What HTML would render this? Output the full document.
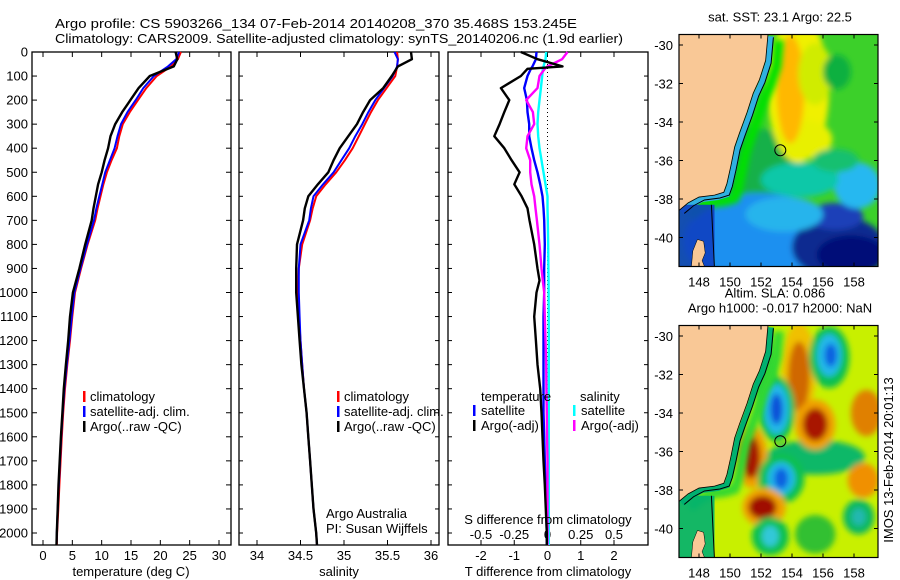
<!DOCTYPE html>
<html><head><meta charset="utf-8"><style>
html,body{margin:0;padding:0;background:#fff;}
svg{display:block;font-family:"Liberation Sans",sans-serif;}
text{font-size:13px;fill:#000;}
</style></head><body>
<svg id="fig" width="900" height="580" viewBox="0 0 900 580">
<defs>
<filter id="blur3" x="-50%" y="-50%" width="200%" height="200%"><feGaussianBlur stdDeviation="3"/></filter>
<clipPath id="clipTop"><rect x="679" y="35" width="199" height="232"/></clipPath>
<clipPath id="clipBot"><rect x="679" y="325" width="199" height="232"/></clipPath>
</defs>
<text x="55" y="28" textLength="522" lengthAdjust="spacingAndGlyphs">Argo profile: CS 5903266_134 07-Feb-2014 20140208_370 35.468S 153.245E</text>
<text x="55" y="43" textLength="568" lengthAdjust="spacingAndGlyphs">Climatology: CARS2009. Satellite-adjusted climatology: synTS_20140206.nc (1.9d earlier)</text>
<g id="panels"></g>
<g id="maps"></g>
</svg>
<script>
// ---------- data ----------
const depths = [0,30,60,100,150,200,250,300,350,400,450,500,550,600,650,700,800,900,1000,1100,1200,1300,1400,1500,1600,1700,1800,1900,2000,2050];
const tempClim = [23.5,23.0,21.8,19.4,17.6,16.2,14.8,13.6,13.0,12.6,11.7,10.9,10.3,9.8,9.3,8.9,7.6,6.5,5.45,5.0,4.6,4.15,3.75,3.45,3.2,3.0,2.8,2.6,2.4,2.35];
const tempSat  = [23.2,22.7,21.3,18.9,17.1,15.8,14.4,13.3,12.7,12.2,11.4,10.6,10.1,9.6,9.1,8.7,7.5,6.4,5.35,4.9,4.5,4.05,3.65,3.35,3.1,2.9,2.7,2.5,2.35,2.3];
const tempArgo = [22.6,22.9,22.3,18.2,16.3,14.9,13.5,12.3,11.5,11.1,10.5,10.0,9.4,9.0,8.6,8.3,7.2,6.2,5.1,4.6,4.3,3.9,3.55,3.3,3.05,2.85,2.65,2.5,2.35,2.3];
const salClim = [35.61,35.62,35.61,35.59,35.49,35.39,35.31,35.24,35.17,35.10,35.01,34.91,34.79,34.68,34.64,34.61,34.52,34.48,34.47,34.48,34.50,34.52,34.54,34.57,34.59,34.61,34.63,34.65,34.68,34.69];
const salSat  = [35.58,35.62,35.61,35.56,35.46,35.36,35.28,35.21,35.13,35.06,34.97,34.88,34.76,34.65,34.62,34.60,34.50,34.48,34.48,34.49,34.50,34.52,34.54,34.57,34.59,34.61,34.63,34.65,34.68,34.69];
const salArgo = [35.77,35.78,35.62,35.55,35.45,35.30,35.22,35.15,35.05,34.95,34.88,34.82,34.70,34.59,34.55,34.53,34.46,34.45,34.45,34.47,34.49,34.51,34.54,34.57,34.59,34.61,34.63,34.65,34.68,34.69];
const diffDepths = [0,30,60,70,100,150,200,250,300,350,400,450,500,550,600,650,700,800,900,950,1000,1100,1200,1300,1400,1500,1600,1700,1800,1900,2000,2050];
const dTsat  = [-0.33,-0.35,-0.45,-0.5,-0.6,-0.7,-0.62,-0.6,-0.55,-0.55,-0.48,-0.4,-0.3,-0.22,-0.15,-0.12,-0.1,-0.08,-0.1,-0.1,-0.1,-0.12,-0.12,-0.12,-0.12,-0.12,-0.1,-0.08,-0.06,-0.04,-0.02,-0.02];
const dTargo = [-0.8,-0.3,0.45,-0.6,-0.8,-1.4,-1.15,-1.3,-1.44,-1.6,-1.3,-1.08,-0.84,-1.0,-0.78,-0.6,-0.54,-0.4,-0.3,-0.24,-0.33,-0.4,-0.35,-0.3,-0.22,-0.18,-0.15,-0.12,-0.08,-0.05,-0.02,-0.02];
const dSsat  = [-0.01,-0.015,-0.03,-0.035,-0.04,-0.05,-0.06,-0.07,-0.075,-0.07,-0.06,-0.045,-0.03,-0.015,0,0,0.002,0.005,0.007,0.008,0.008,0.009,0.01,0.01,0.01,0.01,0.01,0.01,0.01,0.01,0.01,0.01];
const dSargo = [0.15,0.11,0.0,-0.02,-0.06,-0.075,-0.16,-0.11,-0.1,-0.15,-0.16,-0.13,-0.13,-0.12,-0.1,-0.09,-0.08,-0.06,-0.045,-0.035,-0.025,-0.02,-0.015,-0.01,-0.008,-0.005,-0.003,0,0,0,0,0];
const depthTicks = [0,100,200,300,400,500,600,700,800,900,1000,1100,1200,1300,1400,1500,1600,1700,1800,1900,2000];
const tempTicks = [0,5,10,15,20,25,30];
const salTicks = [34,34.5,35,35.5,36];
const salTickLabels = ["34","34.5","35","35.5","36"];
const tdTicks = [-2,-1,0,1,2];
const sdTicks = [-0.5,-0.25,0,0.25,0.5];
const sdTickLabels = ["-0.5","-0.25","0","0.25","0.5"];
const lonTicks = [148,150,152,154,156,158];
const latTicks = [-30,-32,-34,-36,-38,-40];
const argoLon = 153.245, argoLat = -35.468;

// ---------- helpers ----------
const NS = "http://www.w3.org/2000/svg";
function mk(tag, attrs, parent){const e=document.createElementNS(NS,tag);for(const k in attrs)e.setAttribute(k,attrs[k]);parent.appendChild(e);return e;}
const yTop=52, yBot=545;
const yD = d => yTop + d*0.2405;
function lin(d0,d1,r0,r1){return v=>r0+(v-d0)*(r1-r0)/(d1-d0);}
const xT = lin(0,30,43,219);
const xS = lin(34,36,257,431);
const xTD = lin(0,2,547.5,614);
const xSD = v => xTD(v*4);
const P = document.getElementById('panels');

function frame(x0,x1,name){
  const r=mk('rect',{x:x0,y:yTop,width:x1-x0,height:yBot-yTop,fill:'none',stroke:'#000','stroke-width':1.3},P);
  
  
}
function line(xs,ys,xf,color,w,name){
  let d='';
  for(let i=0;i<ys.length;i++){d+=(i?'L':'M')+xf(xs[i]).toFixed(1)+','+yD(ys[i]).toFixed(1);}
  const p=mk('path',{d:d,fill:'none',stroke:color,'stroke-width':w,'stroke-linejoin':'round'},P);
  
  
}
function txt(x,y,s,anchor,name,parent,size){
  const t=mk('text',{x:x,y:y,'text-anchor':anchor||'start'},parent||P);
  if(size)t.style.fontSize=size+'px';
  t.textContent=s;
  
  
  return t;
}
function xticks(vals,xf,labels,x0,x1,name,labelY){
  vals.forEach((v,i)=>{
    const x=xf(v); if(x<x0||x>x1)return;
    mk('line',{x1:x,y1:yTop,x2:x,y2:yTop+5,stroke:'#000'},P);
    mk('line',{x1:x,y1:yBot,x2:x,y2:yBot-5,stroke:'#000'},P);
    if(labelY) txt(x,labelY,labels[i],'middle',name+'-tick-label');
  });
}

// ---------- panel 1: temperature ----------
frame(32,231,'temperature-panel');
depthTicks.forEach(d=>{
  const y=yD(d);
  mk('line',{x1:32,y1:y,x2:37,y2:y,stroke:'#000'},P);
  mk('line',{x1:231,y1:y,x2:226,y2:y,stroke:'#000'},P);
  txt(28,y+4.5,String(d),'end','depth-tick-label');
});
xticks(tempTicks,xT,tempTicks.map(String),32,231,'temperature',560);
line(tempClim,depths,xT,'#ff0000',2,'temp-climatology-line');
line(tempSat,depths,xT,'#0000ff',2,'temp-satellite-line');
line(tempArgo,depths,xT,'#000000',2.4,'temp-argo-line');
txt(131,576,'temperature (deg C)','middle','temperature-axis-title');
[['#ff0000','climatology'],['#0000ff','satellite-adj. clim.'],['#000','Argo(..raw -QC)']].forEach((e,i)=>{
  const y=397+i*15;
  mk('rect',{x:83,y:y-6,width:2.5,height:11,fill:e[0]},P);
  txt(90,y+4,e[1],'start','temp-legend-entry');
});

// ---------- panel 2: salinity ----------
frame(239,439,'salinity-panel');
depthTicks.forEach(d=>{
  const y=yD(d);
  mk('line',{x1:239,y1:y,x2:243,y2:y,stroke:'#000'},P);
  mk('line',{x1:439,y1:y,x2:435,y2:y,stroke:'#000'},P);
});
xticks(salTicks,xS,salTickLabels,239,439,'salinity',560);
line(salClim,depths,xS,'#ff0000',2,'sal-climatology-line');
line(salSat,depths,xS,'#0000ff',2,'sal-satellite-line');
line(salArgo,depths,xS,'#000000',2.4,'sal-argo-line');
txt(339,576,'salinity','middle','salinity-axis-title');
[['#ff0000','climatology'],['#0000ff','satellite-adj. clim.'],['#000','Argo(..raw -QC)']].forEach((e,i)=>{
  const y=397+i*15;
  mk('rect',{x:337,y:y-6,width:2.5,height:11,fill:e[0]},P);
  txt(344,y+4,e[1],'start','sal-legend-entry');
});
txt(326,518,'Argo Australia','start','credit-argo-australia');
txt(326,533,'PI: Susan Wijffels','start','credit-pi');

// ---------- panel 3: differences ----------
frame(448,648,'difference-panel');
depthTicks.forEach(d=>{
  const y=yD(d);
  mk('line',{x1:448,y1:y,x2:452,y2:y,stroke:'#000'},P);
  mk('line',{x1:648,y1:y,x2:644,y2:y,stroke:'#000'},P);
});
xticks(tdTicks,xTD,tdTicks.map(String),448,648,'tdiff',560);
sdTicks.forEach((v,i)=>{txt(xSD(v),539,sdTickLabels[i],'middle','sdiff-tick-label');});
const zl=mk('line',{x1:xTD(0),y1:yTop,x2:xTD(0),y2:yBot,stroke:'#000','stroke-dasharray':'1,3'},P);


line(dSsat,diffDepths,xSD,'#00ffff',2.4,'sdiff-satellite-line');
line(dTsat,diffDepths,xTD,'#0000ff',2.4,'tdiff-satellite-line');
line(dSargo,diffDepths,xSD,'#ff00ff',2.4,'sdiff-argo-line');
line(dTargo,diffDepths,xTD,'#000000',2.4,'tdiff-argo-line');
txt(548,524,'S difference from climatology','middle','sdiff-axis-title');
txt(548,576,'T difference from climatology','middle','tdiff-axis-title');
txt(481,401,'temperature','start','diff-legend-temperature');
txt(580,401,'salinity','start','diff-legend-salinity');
[['#0000ff','satellite',473],['#000','Argo(-adj)',473],['#00ffff','satellite',573],['#ff00ff','Argo(-adj)',573]].forEach((e,i)=>{
  const y=411+(i%2)*15;
  mk('rect',{x:e[2],y:y-6,width:2.5,height:11,fill:e[0]},P);
  txt(e[2]+8,y+4,e[1],'start','diff-legend-entry');
});

// ---------- maps ----------
const M=document.getElementById('maps');
const mx = lin(148,158,699,854);
const coast = [[152.45,-29.45],[152.3,-30.8],[151.9,-31.8],[151.5,-32.5],[151.1,-33.5],[150.6,-34.6],[150.3,-35.3],[150.05,-36.3],[149.8,-37.2],[149.6,-37.65],[149.0,-37.8],[148.0,-37.9],[147.3,-38.2],[146.7,-38.6]];
const tas = [[147.5,-41.6],[147.6,-40.7],[147.9,-40.1],[148.3,-40.2],[148.4,-40.8],[148.2,-41.2],[148.4,-41.6]];
function drawMap(y30,name,title1,title2,blobs,base,shelf,outer,bass){
  const my = lin(-30,-40,y30,y30+192.5);
  const g=mk('g',{'clip-path':'url(#'+(name==='sst-map'?'clipTop':'clipBot')+')'},M);
  
  
  const top=y30-10.5;
  mk('rect',{x:679,y:top,width:199,height:232,fill:base},g);
  const bg=mk('g',{filter:'url(#blur3)'},g);
  blobs.forEach(b=>{
    mk('ellipse',{cx:mx(b[0]),cy:my(b[1]),rx:b[2]*15.5,ry:b[3]*19.3,fill:b[4],transform:'rotate('+(b[5]||0)+' '+mx(b[0])+' '+my(b[1])+')'},bg);
  });
  let od='';coast.forEach((c,i)=>{od+=(i?'L':'M')+mx(c[0]+0.7)+','+my(c[1]-0.3);});
  mk('path',{d:od,fill:'none',stroke:outer,'stroke-width':10,filter:'url(#blur3)'},g);
  let sd='';coast.forEach((c,i)=>{sd+=(i?'L':'M')+mx(c[0]+0.2)+','+my(c[1]-0.1);});
  mk('path',{d:sd,fill:'none',stroke:shelf,'stroke-width':6},g);
  mk('rect',{x:679,y:my(-38.3),width:mx(149)-679,height:my(-41.6)-my(-38.3),fill:bass,opacity:0.9},g);
  let cd='';coast.forEach((c,i)=>{cd+=(i?'L':'M')+mx(c[0]+0.35)+','+my(c[1]-0.15);});
  mk('path',{d:cd,fill:'none',stroke:'#000','stroke-width':1},g);
  let ld='M679,'+top;coast.forEach(c=>{ld+='L'+mx(c[0])+','+my(c[1]);});ld+='L679,'+my(-38.7)+'Z';
  mk('path',{d:ld,fill:'#f9c896',stroke:'#000','stroke-width':0.8},g);
  let td='';tas.forEach((c,i)=>{td+=(i?'L':'M')+mx(c[0])+','+my(c[1]);});
  mk('path',{d:td+'Z',fill:'#f9c896',stroke:'#000','stroke-width':0.5},g);
  mk('path',{d:'M'+mx(148.8)+','+my(-38.3)+'L'+mx(148.9)+','+my(-40)+'L'+mx(149.0)+','+my(-41.6),fill:'none',stroke:'#000','stroke-width':1},g);
  const c=mk('circle',{cx:mx(argoLon),cy:my(argoLat),r:5.5,fill:'none',stroke:'#000','stroke-width':1},M);
  
  
  const fr=mk('rect',{x:679,y:top,width:199,height:232,fill:'none',stroke:'#000','stroke-width':1.2},M);
  
  
  lonTicks.forEach(l=>{
    const x=mx(l);
    mk('line',{x1:x,y1:top,x2:x,y2:top+4,stroke:'#000'},M);
    mk('line',{x1:x,y1:top+232,x2:x,y2:top+228,stroke:'#000'},M);
    txt(x,top+252,String(l),'middle',name+'-lon-label',M);
  });
  latTicks.forEach(l=>{
    const y=my(l);
    mk('line',{x1:679,y1:y,x2:683,y2:y,stroke:'#000'},M);
    mk('line',{x1:878,y1:y,x2:874,y2:y,stroke:'#000'},M);
    txt(673,y+5,String(l),'end',name+'-lat-label',M);
  });
  if(title2){txt(775,top-28,title1,'middle',name+'-title',M);txt(780,top-13,title2,'middle',name+'-subtitle',M);}
  else txt(780,top-13,title1,'middle',name+'-title',M);
}
// SST blobs: [lon,lat,rx,ry,color,rot]
drawMap(45,'sst-map','sat. SST: 23.1 Argo: 22.5',null,[
  [151.5,-36.5,3,2.2,'#14b04a'],
  [152,-40.2,5,2.5,'#1e90f0'],
  [157,-40.5,3,1.6,'#0a2a90'],
  [157.8,-40.9,2.2,1,'#000a78'],
  [156.8,-38.9,1.8,0.7,'#1a40b8'],
  [153.5,-38.8,2.5,0.9,'#28b4ec'],
  [158.2,-37.3,1.5,1.2,'#28b8f0'],
  [154.5,-37.0,2.5,0.9,'#10c8a8'],
  [154.4,-32.3,2.0,3.8,'#f0f000'],
  [154.8,-34.9,1.8,1.0,'#e8f000'],
  [153.9,-32.3,0.9,2.8,'#ffb800'],
  [155.5,-31.5,1.1,1.6,'#d0ec00'],
  [156.9,-31.4,0.9,0.9,'#10b040'],
  [156.8,-36.0,1.5,0.6,'#14c070']
],'#3cd02a','#30b0e0','#00e000','#1040c0');
// SLA blobs
drawMap(336,'sla-map','Altim. SLA: 0.086','Argo h1000: -0.017 h2000: NaN',[
  [155.5,-36.3,3.2,0.9,'#10b868'],
  [152.2,-31.5,0.8,2,'#30d030'],
  [154.45,-31.8,1.1,2.5,'#f0c000'],
  [154.45,-32.1,0.7,1.8,'#d06800'],
  [156.4,-31.1,1.3,1.6,'#10c050'],
  [156.4,-31.0,0.8,1.1,'#20b8e8'],
  [156.5,-31.0,0.4,0.6,'#1060e0'],
  [153.0,-33.8,1.2,1.7,'#10c050'],
  [153.0,-33.8,0.8,1.3,'#20b8e8'],
  [153.0,-33.8,0.4,0.8,'#1050d8'],
  [155.5,-34.6,1.3,1.3,'#f0a000'],
  [155.5,-34.6,0.8,0.85,'#a81800'],
  [151.4,-36.3,1.0,1.6,'#f0a000'],
  [151.35,-36.3,0.6,1.1,'#a81800'],
  [153.3,-37.4,1.5,1.3,'#10c050'],
  [153.3,-37.4,0.9,0.85,'#20b8e8'],
  [153.3,-37.4,0.45,0.55,'#1060e0'],
  [152.2,-38.9,1.4,1.0,'#f0a000'],
  [152.1,-38.9,0.9,0.6,'#a01000'],
  [152.6,-40.4,1.2,1.0,'#10c050'],
  [152.6,-40.4,0.55,0.55,'#30c8d8'],
  [158.8,-34.0,1.0,1.2,'#e08000'],
  [158.6,-37.5,1.0,0.9,'#f09000'],
  [158.3,-39.4,1.0,0.9,'#10b860'],
  [158.3,-39.4,0.45,0.45,'#20b8b0'],
  [155.5,-40.3,1.3,1.0,'#30c030']
],'#c8f000','#00b070','#30d830','#00b070');
const v=txt(0,0,'IMOS 13-Feb-2014 20:01:13','middle','imos-timestamp',M);
v.setAttribute('transform','translate(893,460) rotate(-90)');
</script>
</body></html>
